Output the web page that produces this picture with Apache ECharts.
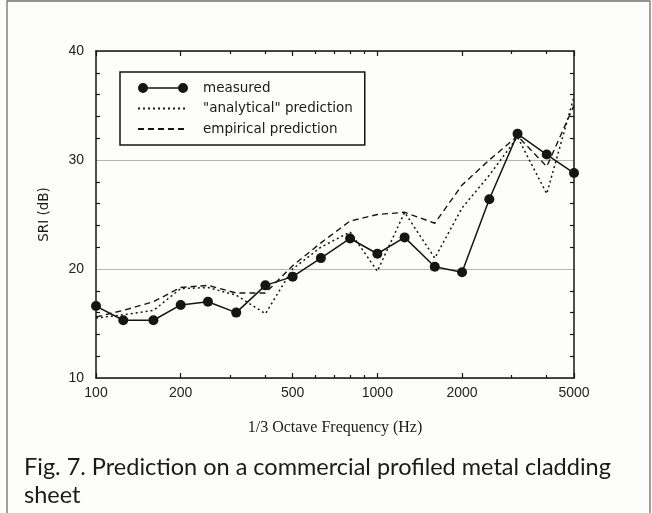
<!DOCTYPE html>
<html>
<head>
<meta charset="utf-8">
<script src="https://cdn.jsdelivr.net/npm/echarts@6/dist/echarts.min.js"></script>
<style>
  html, body { margin: 0; padding: 0; background: #fdfdfb; }
  #chart { width: 652px; height: 513px; }
</style>
</head>
<body>
<div id="chart"></div>
<script>
// 1/3 octave band centre frequencies (Hz)
const freqs = [100, 125, 160, 200, 250, 315, 400, 500, 630, 800, 1000, 1250, 1600, 2000, 2500, 3150, 4000, 5000];

// Sound reduction index (dB)
const measured   = [16.6, 15.3, 15.3, 16.7, 17.0, 16.0, 18.5, 19.3, 21.0, 22.8, 21.4, 22.9, 20.2, 19.7, 26.4, 32.4, 30.5, 28.8];
const analytical = [15.5, 15.8, 16.2, 18.2, 18.3, 17.6, 15.9, 20.0, 22.0, 23.4, 19.8, 25.2, 21.0, 25.6, 28.6, 32.1, 26.9, 35.8];
const empirical  = [15.6, 16.2, 17.0, 18.3, 18.5, 17.8, 17.8, 20.3, 22.4, 24.4, 25.0, 25.2, 24.2, 27.7, 30.0, 32.2, 29.4, 35.0];

// Axis ticks and labels
const xLabelValues = [100, 200, 500, 1000, 2000, 5000];
const xMinorValues = [300, 400, 600, 700, 800, 900, 3000, 4000];
const yMinorValues = [12, 14, 16, 18, 22, 24, 26, 28, 32, 34, 36, 38];

const seriesNames = ['measured', '"analytical" prediction', 'empirical prediction'];

const pairs = vals => freqs.map((f, i) => [f, vals[i]]);

const INK = '#151515';
const measuredIcon = 'path://M0,5A5,5 0 1,1 10,5A5,5 0 1,1 0,5Z M40,5A5,5 0 1,1 50,5A5,5 0 1,1 40,5Z M9.9,4.3L40.1,4.3L40.1,5.7L9.9,5.7Z';
const hiddenSymbol = { color: 'rgba(0,0,0,0)', borderColor: 'rgba(0,0,0,0)', borderWidth: 0 };

const chart = echarts.init(document.getElementById('chart'), null, { renderer: 'canvas' });

function logAxis(position, showLine, tickValues, tickLen, labelValues) {
  return {
    type: 'log',
    logBase: 10,
    min: 100,
    max: 5000,
    position: position,
    axisLine: { show: showLine, onZero: false, lineStyle: { color: INK, width: 1.5 } },
    axisTick: { show: true, inside: true, length: tickLen, customValues: tickValues, lineStyle: { color: INK, width: 1.2 } },
    axisLabel: labelValues ? {
      show: true, customValues: labelValues, margin: 8,
      formatter: v => String(Math.round(v)),
      fontFamily: 'Liberation Sans, Arial, sans-serif', fontSize: 14, color: '#222'
    } : { show: false },
    splitLine: { show: false },
    minorTick: { show: false },
    minorSplitLine: { show: false }
  };
}

function minorValueAxis(position) {
  return {
    type: 'value',
    min: 10,
    max: 40,
    interval: 10,
    position: position,
    axisLine: { show: false },
    axisTick: { show: true, inside: true, length: 4, customValues: yMinorValues, lineStyle: { color: INK, width: 1.2 } },
    axisLabel: { show: false },
    splitLine: { show: false }
  };
}

const option = {
  backgroundColor: '#fdfdfb',
  animation: false,
  grid: { left: 96, top: 51, right: 78, bottom: 135, containLabel: false },
  title: {
    text: 'Fig. 7. Prediction on a commercial profiled metal cladding\nsheet',
    left: 24,
    top: 453,
    padding: 0,
    textStyle: {
      fontFamily: 'Lato, "Noto Sans", sans-serif',
      fontWeight: 'normal',
      fontSize: 23.5,
      lineHeight: 28,
      color: '#1a1a1a'
    }
  },
  legend: {
    left: 120,
    top: 72,
    orient: 'vertical',
    padding: [9, 12, 9, 17],
    itemWidth: 50,
    itemHeight: 10,
    itemGap: 6.5,
    borderColor: INK,
    borderWidth: 1.5,
    backgroundColor: '#fdfdfb',
    selectedMode: false,
    textStyle: {
      fontFamily: '"DejaVu Sans", sans-serif',
      fontSize: 13.5,
      color: '#1a1a1a',
      padding: [0, 0, 0, 10]
    },
    data: [
      { name: seriesNames[0], icon: measuredIcon },
      { name: seriesNames[1], itemStyle: hiddenSymbol },
      { name: seriesNames[2], itemStyle: hiddenSymbol }
    ]
  },
  xAxis: [
    Object.assign(logAxis('bottom', true, xLabelValues, 5, xLabelValues), {
      name: '1/3 Octave Frequency (Hz)',
      nameLocation: 'middle',
      nameGap: 42,
      nameTextStyle: { fontFamily: '"Liberation Serif", "Times New Roman", serif', fontSize: 16, color: '#1a1a1a' }
    }),
    logAxis('bottom', false, xMinorValues, 3, null),
    logAxis('top', true, xLabelValues, 5, null),
    logAxis('top', false, xMinorValues, 3, null)
  ],
  yAxis: [
    {
      type: 'value',
      min: 10,
      max: 40,
      interval: 10,
      position: 'left',
      name: 'SRI (dB)',
      nameLocation: 'middle',
      nameRotate: 90,
      nameGap: 45,
      nameTextStyle: { fontFamily: '"DejaVu Sans", sans-serif', fontSize: 13.5, color: '#1a1a1a' },
      axisLine: { show: true, lineStyle: { color: INK, width: 1.5 } },
      axisTick: { show: false },
      axisLabel: { margin: 12, fontFamily: 'Liberation Sans, Arial, sans-serif', fontSize: 14, color: '#222' },
      splitLine: { show: true, lineStyle: { color: '#b5b5b5', width: 1 } }
    },
    {
      type: 'value',
      min: 10,
      max: 40,
      interval: 10,
      position: 'right',
      axisLine: { show: true, lineStyle: { color: INK, width: 1.5 } },
      axisTick: { show: false },
      axisLabel: { show: false },
      splitLine: { show: false }
    },
    minorValueAxis('left'),
    minorValueAxis('right')
  ],
  series: [
    {
      name: seriesNames[2],
      type: 'line',
      xAxisIndex: 0,
      yAxisIndex: 0,
      data: pairs(empirical),
      symbol: 'none',
      lineStyle: { color: INK, width: 1.4, type: [6, 4] },
      itemStyle: { color: INK },
      z: 2
    },
    {
      name: seriesNames[1],
      type: 'line',
      xAxisIndex: 0,
      yAxisIndex: 0,
      data: pairs(analytical),
      symbol: 'none',
      lineStyle: { color: INK, width: 1.5, type: [2, 3] },
      itemStyle: { color: INK },
      z: 3
    },
    {
      name: seriesNames[0],
      type: 'line',
      xAxisIndex: 0,
      yAxisIndex: 0,
      data: pairs(measured),
      symbol: 'circle',
      symbolSize: 10,
      lineStyle: { color: INK, width: 1.5 },
      itemStyle: { color: INK },
      z: 4
    }
  ],
  graphic: [
    {
      type: 'rect',
      silent: true,
      z: -1,
      shape: { x: 7, y: 1, width: 643, height: 600 },
      style: { fill: null, stroke: '#707070', lineWidth: 1.3 }
    }
  ]
};

chart.setOption(option);
</script>
</body>
</html>
